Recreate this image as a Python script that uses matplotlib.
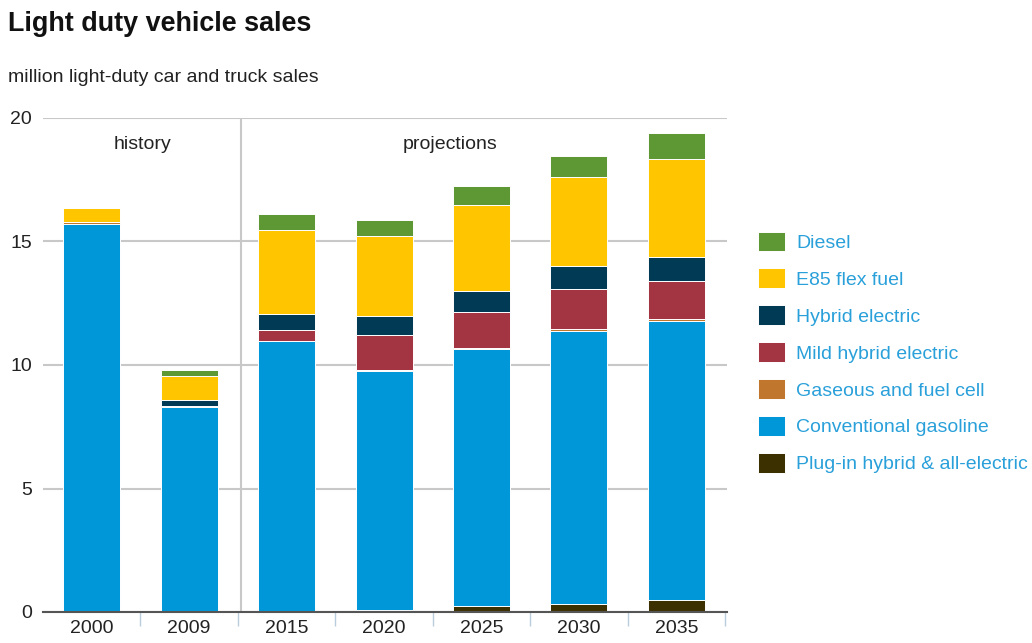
import matplotlib
matplotlib.use("Agg")
import matplotlib.pyplot as plt
from matplotlib.patches import Patch
import numpy as np

# Sales by technology, million vehicles
years = ["2000", "2009", "2015", "2020", "2025", "2030", "2035"]
plugin = [0.0, 0.0, 0.03, 0.10, 0.26, 0.32, 0.49]
conventional = [15.72, 8.30, 10.94, 9.66, 10.38, 11.07, 11.29]
gaseous = [0.05, 0.02, 0.02, 0.03, 0.04, 0.05, 0.10]
mild_hybrid = [0.0, 0.0, 0.42, 1.43, 1.48, 1.65, 1.54]
hybrid = [0.0, 0.25, 0.64, 0.77, 0.83, 0.93, 0.96]
e85 = [0.60, 1.00, 3.40, 3.24, 3.49, 3.59, 3.94]
diesel = [0.0, 0.22, 0.65, 0.64, 0.78, 0.85, 1.08]

series = [
    ("Plug-in hybrid & all-electric", plugin, "#3d3000"),
    ("Conventional gasoline", conventional, "#0097d8"),
    ("Gaseous and fuel cell", gaseous, "#c0762c"),
    ("Mild hybrid electric", mild_hybrid, "#a33442"),
    ("Hybrid electric", hybrid, "#003a55"),
    ("E85 flex fuel", e85, "#ffc600"),
    ("Diesel", diesel, "#5e9834"),
]

plt.rcParams["font.family"] = ["Liberation Sans", "DejaVu Sans"]

W, H = 1032, 643
fig = plt.figure(figsize=(W / 100, H / 100), dpi=100)
ax = fig.add_axes([43 / W, 1 - 612 / H, (727 - 43) / W, (612 - 118) / H])

x = np.arange(len(years))
bottom = np.zeros(len(years))
handles = []
for label, vals, color in series:
    vals = np.array(vals)
    ax.bar(x, vals, width=0.585, bottom=bottom, color=color,
           edgecolor="white", linewidth=0.7, zorder=3)
    bottom += vals
    handles.append(Patch(facecolor=color, edgecolor="white", linewidth=0.7, label=label))

ax.set_xlim(-0.5, 6.52)
ax.set_ylim(0, 20)
ax.set_yticks([0, 5, 10, 15, 20])
ax.set_yticklabels(["0", "5", "10", "15", "20"])
ax.yaxis.grid(True, color="#c8c8c8", linewidth=1.5, zorder=0)
ax.tick_params(axis="y", length=0, pad=8, labelsize=14, labelcolor="#222222")

ax.set_xticks(x)
ax.set_xticklabels(years)
ax.tick_params(axis="x", length=0, pad=6, labelsize=14, labelcolor="#222222")
ax.set_xticks(np.arange(0.5, 7, 1), minor=True)
ax.tick_params(axis="x", which="minor", length=10, width=1, color="#b9cddd")

for s in ["top", "right", "left"]:
    ax.spines[s].set_visible(False)
ax.spines["bottom"].set_color("#555555")
ax.spines["bottom"].set_linewidth(1.5)
ax.spines["bottom"].set_zorder(4)

# history / projections divider
ax.axvline(1.53, color="#c8c8c8", linewidth=1.5, zorder=1)
ax.text(0.52, 18.92, "history", ha="center", va="center", fontsize=14, color="#222222")
ax.text(3.68, 18.92, "projections", ha="center", va="center", fontsize=14, color="#222222")

fig.text(8 / W, 1 - 24 / H, "Light duty vehicle sales", ha="left", va="center",
         fontsize=19.4, fontweight="bold", color="#111111")
fig.text(8 / W, 1 - 77 / H, "million light-duty car and truck sales", ha="left",
         va="center", fontsize=14, color="#222222")

leg = fig.legend(handles=handles[::-1], loc="upper left",
                 bbox_to_anchor=(758 / W, 1 - 231.5 / H), frameon=False,
                 prop={"size": 14},
                 handlelength=1.39, handleheight=1.19, handletextpad=0.57,
                 labelspacing=0.845, borderpad=0, borderaxespad=0)
for t in leg.get_texts():
    t.set_color("#2aa0da")

fig.savefig("out.png", dpi=100)
